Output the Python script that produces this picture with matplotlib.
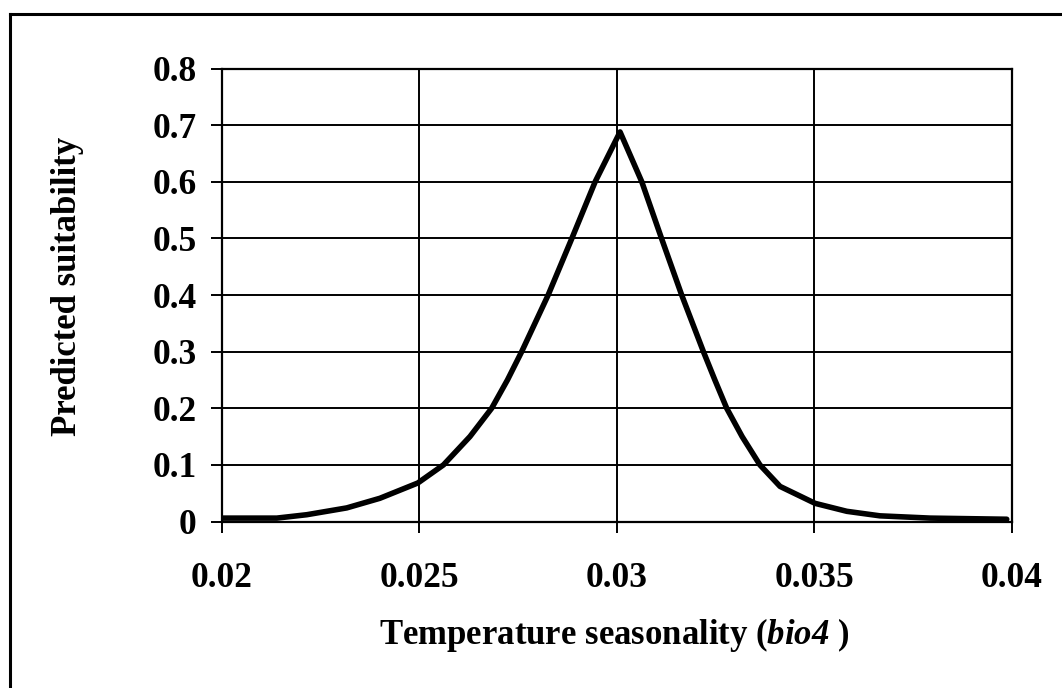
import matplotlib
matplotlib.use("Agg")
import matplotlib.pyplot as plt
from matplotlib.lines import Line2D

# response curve
bio4 = [0.0200, 0.0207, 0.0214, 0.02216, 0.02317, 0.02401, 0.02497, 0.02562,
        0.02629, 0.02684, 0.02724, 0.02760, 0.02827, 0.02887, 0.02946,
        0.03009,
        0.03064, 0.03114, 0.03165, 0.03220, 0.03249, 0.03279, 0.03318,
        0.03363, 0.03414, 0.03503, 0.03583, 0.03667, 0.03794, 0.03988]
suitability = [0.006, 0.006, 0.006, 0.012, 0.024, 0.041, 0.068, 0.10,
               0.15, 0.20, 0.25, 0.30, 0.40, 0.50, 0.60,
               0.688,
               0.60, 0.50, 0.40, 0.30, 0.25, 0.20, 0.15,
               0.10, 0.062, 0.032, 0.018, 0.010, 0.006, 0.004]
x_ticks = [0.02, 0.025, 0.03, 0.035, 0.04]
y_ticks = [0, 0.1, 0.2, 0.3, 0.4, 0.5, 0.6, 0.7, 0.8]

plt.rcParams["font.family"] = ["Liberation Serif", "DejaVu Serif"]
plt.rcParams["font.weight"] = "bold"
# only "bio4" goes through mathtext, so make its roman face bold italic
plt.rcParams["mathtext.fontset"] = "custom"
plt.rcParams["mathtext.rm"] = "Liberation Serif:italic:bold"
plt.rcParams["mathtext.it"] = "Liberation Serif:italic:bold"

W, H = 1062, 688
fig = plt.figure(figsize=(W / 100, H / 100), dpi=100)
ax = fig.add_axes([221.5 / W, 1 - 521.5 / H, 790 / W, 453 / H])

ax.plot(bio4, suitability, color="black", lw=4.0, solid_joinstyle="round",
        solid_capstyle="round", zorder=3)
ax.set_xlim(0.02, 0.04)
ax.set_ylim(0, 0.8)
ax.set_xticks(x_ticks)
ax.set_yticks(y_ticks)
ax.set_xticklabels(["%g" % v for v in x_ticks])
ax.set_yticklabels(["%g" % v for v in y_ticks])
ax.grid(True, color="black", lw=1.4)
ax.set_axisbelow(True)
for s in ax.spines.values():
    s.set_linewidth(1.6)
ax.tick_params(axis="both", direction="out", length=8, width=1.4,
               labelsize=25.5)
ax.tick_params(axis="x", pad=21)
ax.tick_params(axis="y", pad=10)

fig.text(614 / W, 1 - 635 / H, r"Temperature seasonality ($\mathrm{bio4}$ )",
         ha="center", va="center", fontsize=25, fontweight="bold")
fig.text(68 / W, 1 - 286 / H, "Predicted suitability", rotation=90,
         ha="center", va="center", fontsize=25, fontweight="bold")

# chart-area frame (only left/top edges are visible in the picture)
fig.add_artist(Line2D([9.5 / W, 9.5 / W], [0, 1 - 14 / H], color="black",
                      lw=2.2, transform=fig.transFigure))
fig.add_artist(Line2D([9.5 / W, 1], [1 - 14 / H, 1 - 14 / H], color="black",
                      lw=2.2, transform=fig.transFigure))

fig.savefig("out.png", dpi=100)
